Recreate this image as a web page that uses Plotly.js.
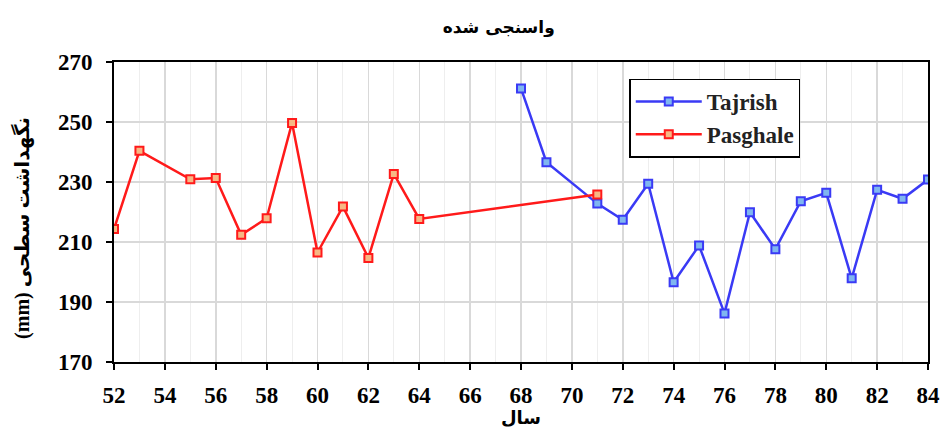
<!DOCTYPE html>
<html>
<head>
<meta charset="utf-8">
<script src="https://cdn.plot.ly/plotly-3.0.1.min.js"></script>
<style>html,body{margin:0;padding:0;background:#fff;}#chart{width:941px;height:428px;}</style>
</head>
<body>
<div id="chart"></div>
<script>
const tajrishYears = [68, 69, 71, 72, 73, 74, 75, 76, 77, 78, 79, 80, 81, 82, 83, 84];
const tajrishValues = [261.2, 236.6, 222.8, 217.4, 229.4, 196.6, 208.8, 186.2, 219.9, 207.6, 223.6, 226.4, 197.9, 227.4, 224.4, 230.8];
const pasghaleYears = [52, 53, 55, 56, 57, 58, 59, 60, 61, 62, 63, 64, 71];
const pasghaleValues = [214.3, 240.4, 230.9, 231.3, 212.4, 217.9, 249.7, 206.5, 221.8, 204.7, 232.7, 217.7, 225.8];
const xTicks = [52, 54, 56, 58, 60, 62, 64, 66, 68, 70, 72, 74, 76, 78, 80, 82, 84];
const yTicks = [170, 190, 210, 230, 250, 270];
const titleText = "واسنجی شده";
const xTitle = "سال";
const yTitle = "(mm) نگهداشت سطحی";
const seriesNames = ["Tajrish", "Pasghale"];

const serif = "Liberation Serif, DejaVu Sans, serif";
const traces = [
  {
    x: tajrishYears, y: tajrishValues, name: seriesNames[0], type: 'scatter', mode: 'lines+markers',
    line: {color: '#3a3af5', width: 2.5},
    marker: {symbol: 'square', size: 8, color: '#7fb6f0', line: {color: '#3a3af5', width: 2}}
  },
  {
    x: pasghaleYears, y: pasghaleValues, name: seriesNames[1], type: 'scatter', mode: 'lines+markers',
    line: {color: '#ff1a1a', width: 2.5},
    marker: {symbol: 'square', size: 8, color: '#f7b784', line: {color: '#ff1a1a', width: 2}}
  }
];

const layout = {
  width: 941, height: 428,
  margin: {l: 114, r: 13, t: 62, b: 66},
  paper_bgcolor: '#fff', plot_bgcolor: '#fff',
  title: {text: titleText, x: 0.53, xanchor: 'center', y: 0.937, yanchor: 'middle',
          font: {family: "DejaVu Sans, sans-serif", size: 17, color: '#000', weight: 'bold'}},
  showlegend: true,
  legend: {x: 0.633, y: 0.945, xanchor: 'left', yanchor: 'top', bgcolor: '#fff',
           bordercolor: '#000', borderwidth: 1.5,
           font: {family: serif, size: 23, color: '#222', weight: 'bold'},
           tracegroupgap: 0, itemwidth: 66},
  xaxis: {
    range: [52, 84], tickmode: 'array', tickvals: xTicks, ticktext: xTicks.map(String),
    showline: true, linecolor: '#000', linewidth: 2, mirror: true,
    ticks: 'outside', ticklen: 6, tickwidth: 2, tickcolor: '#000',
    ticklabelstandoff: 5,
    showgrid: true, gridcolor: '#d9d9d9', gridwidth: 1.5,
    minor: {dtick: 1, tick0: 52, showgrid: true, gridcolor: '#eeeeee', gridwidth: 1, ticks: ''},
    zeroline: false,
    tickfont: {family: serif, size: 23, color: '#000', weight: 'bold'},
    title: {text: xTitle, standoff: 0, font: {family: "DejaVu Sans, sans-serif", size: 18, color: '#000', weight: 'bold'}}
  },
  yaxis: {
    range: [170, 270], tickmode: 'array', tickvals: yTicks, ticktext: yTicks.map(String),
    showline: true, linecolor: '#000', linewidth: 2, mirror: true,
    ticks: 'outside', ticklen: 6, tickwidth: 2, tickcolor: '#000',
    ticklabelstandoff: 9,
    showgrid: true, gridcolor: '#d9d9d9', gridwidth: 1.5,
    zeroline: false,
    tickfont: {family: serif, size: 23, color: '#000', weight: 'bold'},
    title: {text: ''}
  },
  annotations: [{
    text: yTitle, xref: 'paper', yref: 'paper', x: -0.113, y: 0.447,
    xanchor: 'center', yanchor: 'middle', textangle: -90, showarrow: false,
    font: {family: serif, size: 20, color: '#000', weight: 'bold'}
  }]
};

Plotly.newPlot('chart', traces, layout, {displayModeBar: false, staticPlot: true});
</script>
</body>
</html>
